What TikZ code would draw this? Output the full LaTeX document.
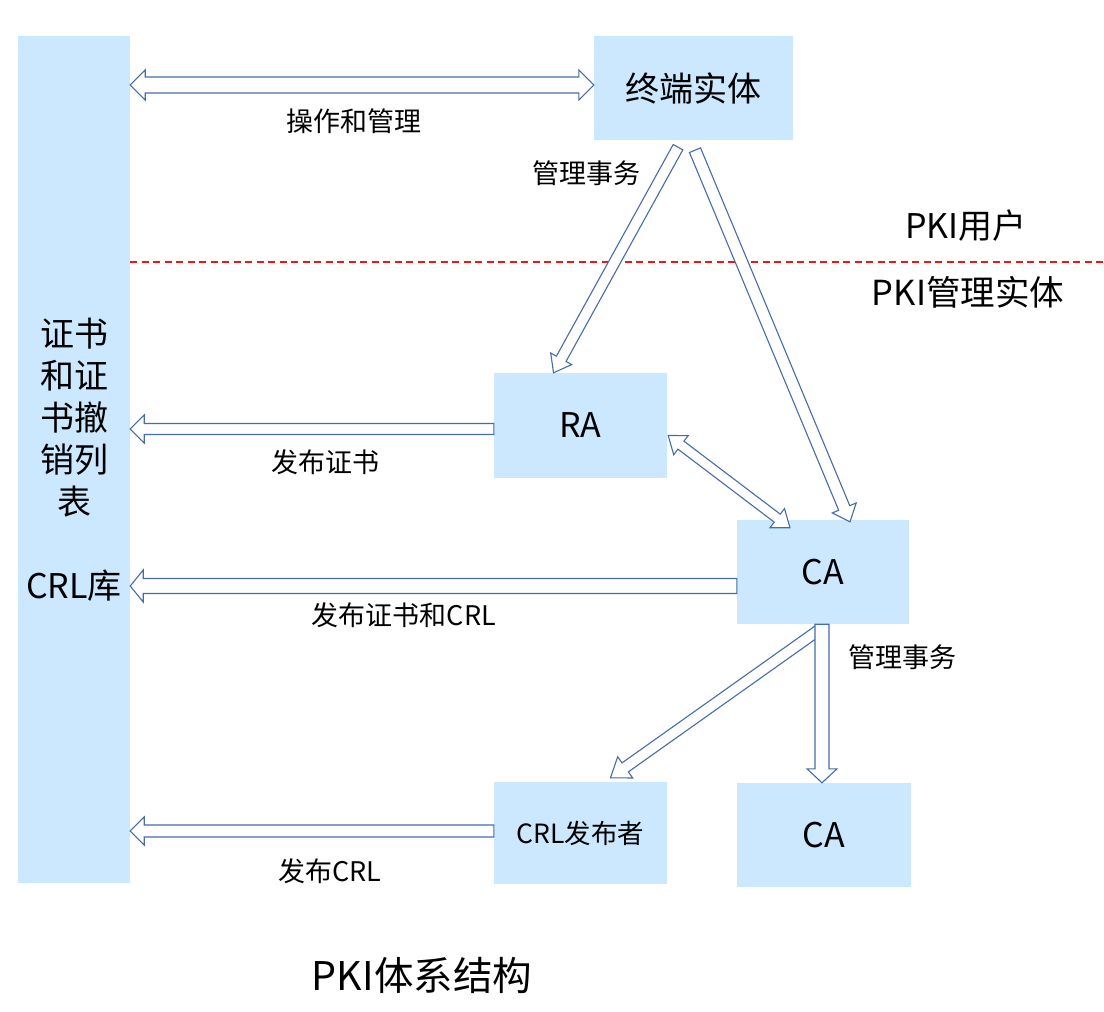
\documentclass[tikz,border=0pt]{standalone}
\usepackage{fontspec}
\setmainfont{Noto Sans CJK SC}
\usetikzlibrary{calc}
\definecolor{boxblue}{RGB}{204,232,255}
\definecolor{arrowblue}{RGB}{70,108,170}
\definecolor{dashred}{RGB}{240,20,20}
\tikzset{
  box/.style={fill=boxblue,draw=none,inner sep=0pt,font=\fontsize{34}{40}\selectfont},
  lbl/.style={inner sep=0pt,font=\fontsize{27}{30}\selectfont},
  blockarr/.style={draw=arrowblue,fill=white,line width=1.1pt,line join=miter},
}
% start, end, shaft half width, head half width, head length
\newcommand{\blockarrow}[5]{%
  \path (#1) coordinate (ba-s) (#2) coordinate (ba-e);
  \path ($(ba-e)!#5!(ba-s)$) coordinate (ba-c);
  \draw[blockarr] ($(ba-s)!#3!90:(ba-e)$) -- ($(ba-c)!#3!90:(ba-e)$)
    -- ($(ba-c)!#4!90:(ba-e)$) -- (ba-e) -- ($(ba-c)!#4!-90:(ba-e)$)
    -- ($(ba-c)!#3!-90:(ba-e)$) -- ($(ba-s)!#3!-90:(ba-e)$) -- cycle;
}
\newcommand{\dblockarrow}[5]{%
  \path (#1) coordinate (ba-s) (#2) coordinate (ba-e);
  \path ($(ba-e)!#5!(ba-s)$) coordinate (ba-c);
  \path ($(ba-s)!#5!(ba-e)$) coordinate (ba-d);
  \draw[blockarr] (ba-s) -- ($(ba-d)!#4!90:(ba-e)$) -- ($(ba-d)!#3!90:(ba-e)$)
    -- ($(ba-c)!#3!90:(ba-e)$) -- ($(ba-c)!#4!90:(ba-e)$) -- (ba-e)
    -- ($(ba-c)!#4!-90:(ba-e)$) -- ($(ba-c)!#3!-90:(ba-e)$)
    -- ($(ba-d)!#3!-90:(ba-e)$) -- ($(ba-d)!#4!-90:(ba-e)$) -- cycle;
}
\begin{document}
\begin{tikzpicture}[x=1pt,y=-1pt]
\useasboundingbox[fill=white] (0,0) rectangle (1104,1012);

% nodes
\node[box,minimum width=112pt,minimum height=847pt,align=center,
      font=\fontsize{34}{42}\selectfont] (repo) at (74,459.5)
      {证书\\和证\\书撤\\销列\\表\\[42pt]CRL库};
\node[box,minimum width=199pt,minimum height=104pt] (ee) at (693.5,88) {终端实体};
\node[box,minimum width=173pt,minimum height=105pt] (ra) at (580.5,425.5) {RA};
\node[box,minimum width=172pt,minimum height=104pt] (ca) at (823,572) {CA};
\node[box,minimum width=173pt,minimum height=102pt,font=\fontsize{26.5}{30}\selectfont] (crlp) at (580.5,833) {CRL发布者};
\node[box,minimum width=174pt,minimum height=104pt] (ca2) at (824,835) {CA};

% dashed divider
\coordinate (dl) at (repo.east |- 0,262);
\coordinate (dr) at (1104,262);
\draw[dashred,line width=1.2pt,dash pattern=on 7pt off 4.5pt] (dl) -- (dr);

% labels
\node[box,fill=none,font=\fontsize{34}{40}\selectfont] (puser) at (966,226) {PKI用户};
\node[box,fill=none,font=\fontsize{34.5}{40}\selectfont] (pmgmt) at (968,292) {PKI管理实体};
\node[lbl] (l1) at (354,121) {操作和管理};
\node[lbl] (l2) at (586,173) {管理事务};
\node[lbl] (l3) at (325,462) {发布证书};
\node[lbl] (l4) at (404,615) {发布证书和CRL};
\node[lbl] (l5) at (902,657) {管理事务};
\node[lbl] (l6) at (330,871) {发布CRL};
\node[inner sep=0pt,font=\fontsize{39.5}{44}\selectfont] (title) at (422,975) {PKI体系结构};

% arrows
\dblockarrow{repo.east |- 0,85}{$(ee.west)+(0,-3)$}{8pt}{15pt}{15pt}
\blockarrow{$(ra.west)+(0,3.5)$}{repo.east |- 0,429}{5.5pt}{14pt}{14pt}
\blockarrow{$(ca.west)+(0,14)$}{repo.east |- 0,586}{7.5pt}{16pt}{13pt}
\blockarrow{$(crlp.west)+(0,-2)$}{repo.east |- 0,831}{6pt}{14pt}{14pt}
\blockarrow{$(ee.south)+(-15.5,7)$}{$(ra.north)+(-27,0)$}{5.5pt}{12pt}{16pt}
\blockarrow{$(ee.south)+(1.5,10)$}{$(ca.north)+(27,2)$}{6pt}{13pt}{15pt}
\dblockarrow{$(ra.east)+(1,10)$}{$(ca.north)+(-33,8)$}{5pt}{12pt}{16pt}
\blockarrow{$(ca.south)+(-3,5)$}{$(crlp.north)+(30,-4)$}{5.5pt}{13pt}{18pt}
\blockarrow{$(ca.south)+(-1,0)$}{$(ca2.north)+(-2,0)$}{7pt}{15pt}{14pt}
\end{tikzpicture}
\end{document}
